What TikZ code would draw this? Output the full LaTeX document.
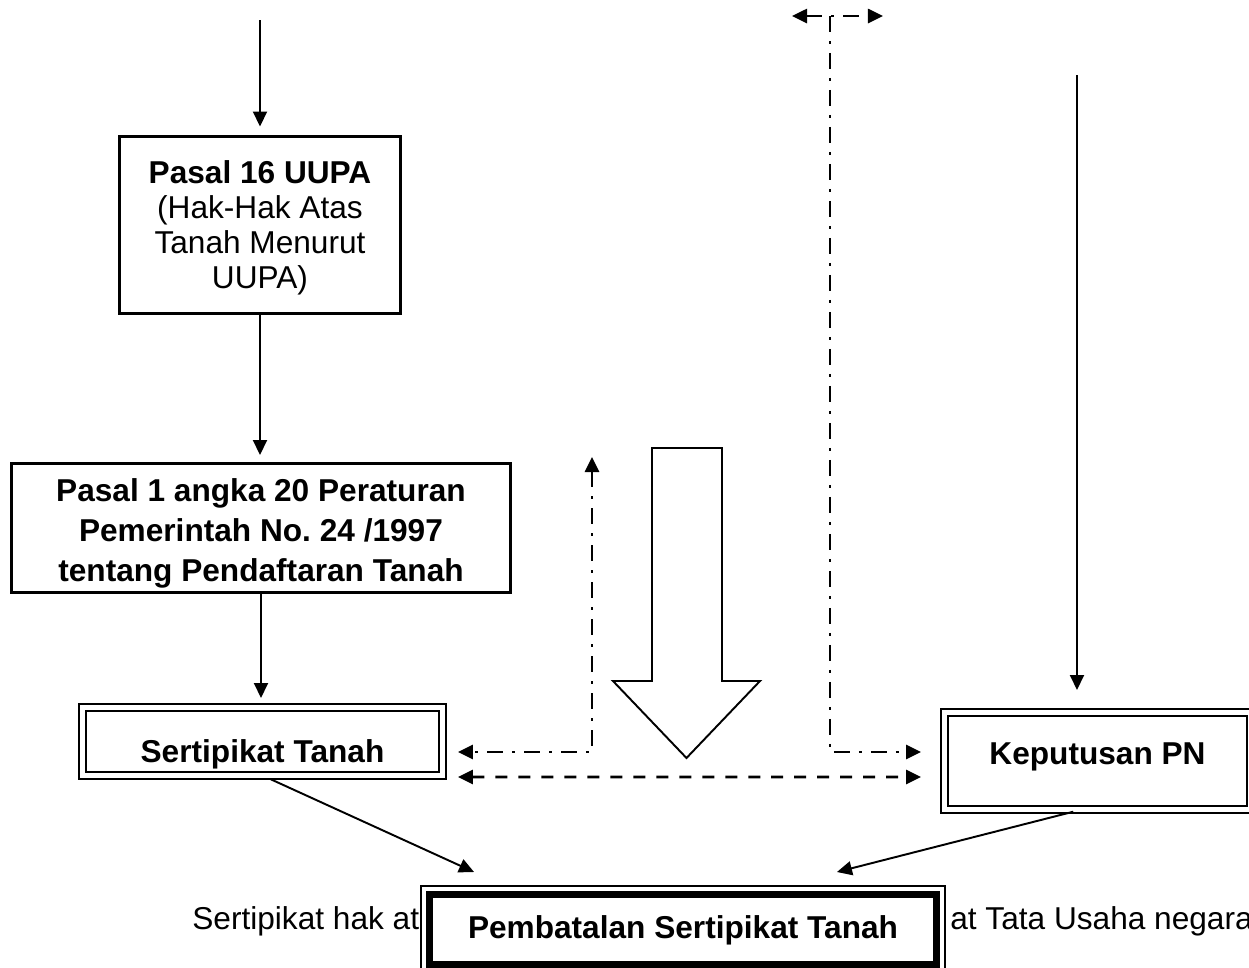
\documentclass[tikz,border=0pt]{standalone}
\usepackage{fontspec}
\setmainfont{Liberation Sans}
\usetikzlibrary{arrows.meta, positioning, calc}

\begin{document}
\begin{tikzpicture}[x=0.02cm, y=-0.02cm, >={Triangle[length=0.3cm, width=0.28cm]},
  txt/.style={font=\fontsize{18}{20}\selectfont, inner sep=0pt},
  box/.style={draw, line width=1.7pt, align=center, inner sep=0pt, outer sep=0pt},
  dbox/.style={draw, double, line width=1.1pt, double distance=0.1cm, inner sep=0pt,
    outer sep=0pt, font=\fontsize{18}{20}\selectfont\bfseries},
  tbox/.style={draw, fill=white, line width=0.14cm, inner sep=0pt, outer sep=0pt,
    preaction={draw=black, line width=0.38cm}, preaction={draw=white, line width=0.30cm},
    font=\fontsize{18}{20}\selectfont\bfseries},
  arr/.style={->, line width=1.1pt},
  dd/.style={line width=1.5pt, dash pattern=on 0.32cm off 0.18cm on 0.06cm off 0.18cm},
  ds/.style={line width=1.5pt, dash pattern=on 0.24cm off 0.22cm}]
  \useasboundingbox (0,0) rectangle (1249,968);

  % left column
  \node[box, minimum width=5.62cm, minimum height=3.54cm, font=\fontsize{18}{20}\selectfont]
    (p16) at (260,225) {\rule{0pt}{16.5pt}\textbf{Pasal 16 UUPA}\\(Hak-Hak Atas\\Tanah Menurut\\UUPA)};
  \node[box, minimum width=9.98cm, minimum height=2.58cm, font=\fontsize{18}{22.8}\selectfont\bfseries]
    (p1) at (261,528) {\rule{0pt}{19pt}Pasal 1 angka 20 Peraturan\\Pemerintah No.\ 24 /1997\\tentang Pendaftaran Tanah};
  \node[dbox, anchor=north, minimum width=7.2cm, text height=1.09cm, text depth=0.27cm]
    (sert) at (262.5,707.5) {Sertipikat Tanah};
  \node[dbox, anchor=north, minimum width=6.12cm, text height=1.03cm, text depth=0.91cm]
    (kep) at (1097.5,712.5) {Keputusan PN};

  \node[txt, anchor=base west] (lft) at (192,929) {Sertipikat hak at};
  \node[txt, anchor=base west] (rgt) at (950,929) {at Tata Usaha negara};
  \node[tbox, anchor=north, minimum width=10.14cm, text height=0.87cm, text depth=0.53cm]
    (pemb) at (683,894.5) {Pembatalan Sertipikat Tanah};

  \coordinate (in1) at (260,20);
  \coordinate (in2) at (1077,75);
  \coordinate (tj) at (830,16);
  \coordinate (mup) at (592,457);

  \draw[arr, shorten >=0.2cm] (in1) -- (p16.north);
  \draw[arr, shorten >=0.17cm] (p16.south) -- (p16.south |- p1.north);
  \draw[arr, shorten >=0.19cm] (p1.south) -- (p1.south |- sert.north);
  \draw[arr, shorten >=0.45cm] (in2) -- (in2 |- kep.north);

  % dash-dot and dashed links
  \draw[dd, <->] ([xshift=-0.76cm]tj) -- ([xshift=1.06cm]tj);
  \draw[dd, ->] (tj) |- ([xshift=-0.47cm, yshift=0.18cm]kep.west);
  \draw[dd, <->] (mup) |- ([xshift=0.31cm, yshift=-0.21cm]sert.east);
  \draw[ds, <->] ([xshift=0.31cm, yshift=-0.71cm]sert.east) -- ([xshift=-0.47cm, yshift=-0.32cm]kep.west);

  % hollow arrow
  \draw[line width=1.1pt] (652,448) -- (722,448) -- (722,681) -- (760,681) -- (686.5,758)
    -- (613,681) -- (652,681) -- cycle;

  \draw[arr, shorten <=0.18cm] (sert.south) -- ([xshift=0.89cm, yshift=0.45cm]pemb.north west);
  \draw[arr, shorten <=0.18cm] ([xshift=-0.31cm]kep.south) -- ([xshift=-1.99cm, yshift=0.45cm]pemb.north east);
\end{tikzpicture}
\end{document}
